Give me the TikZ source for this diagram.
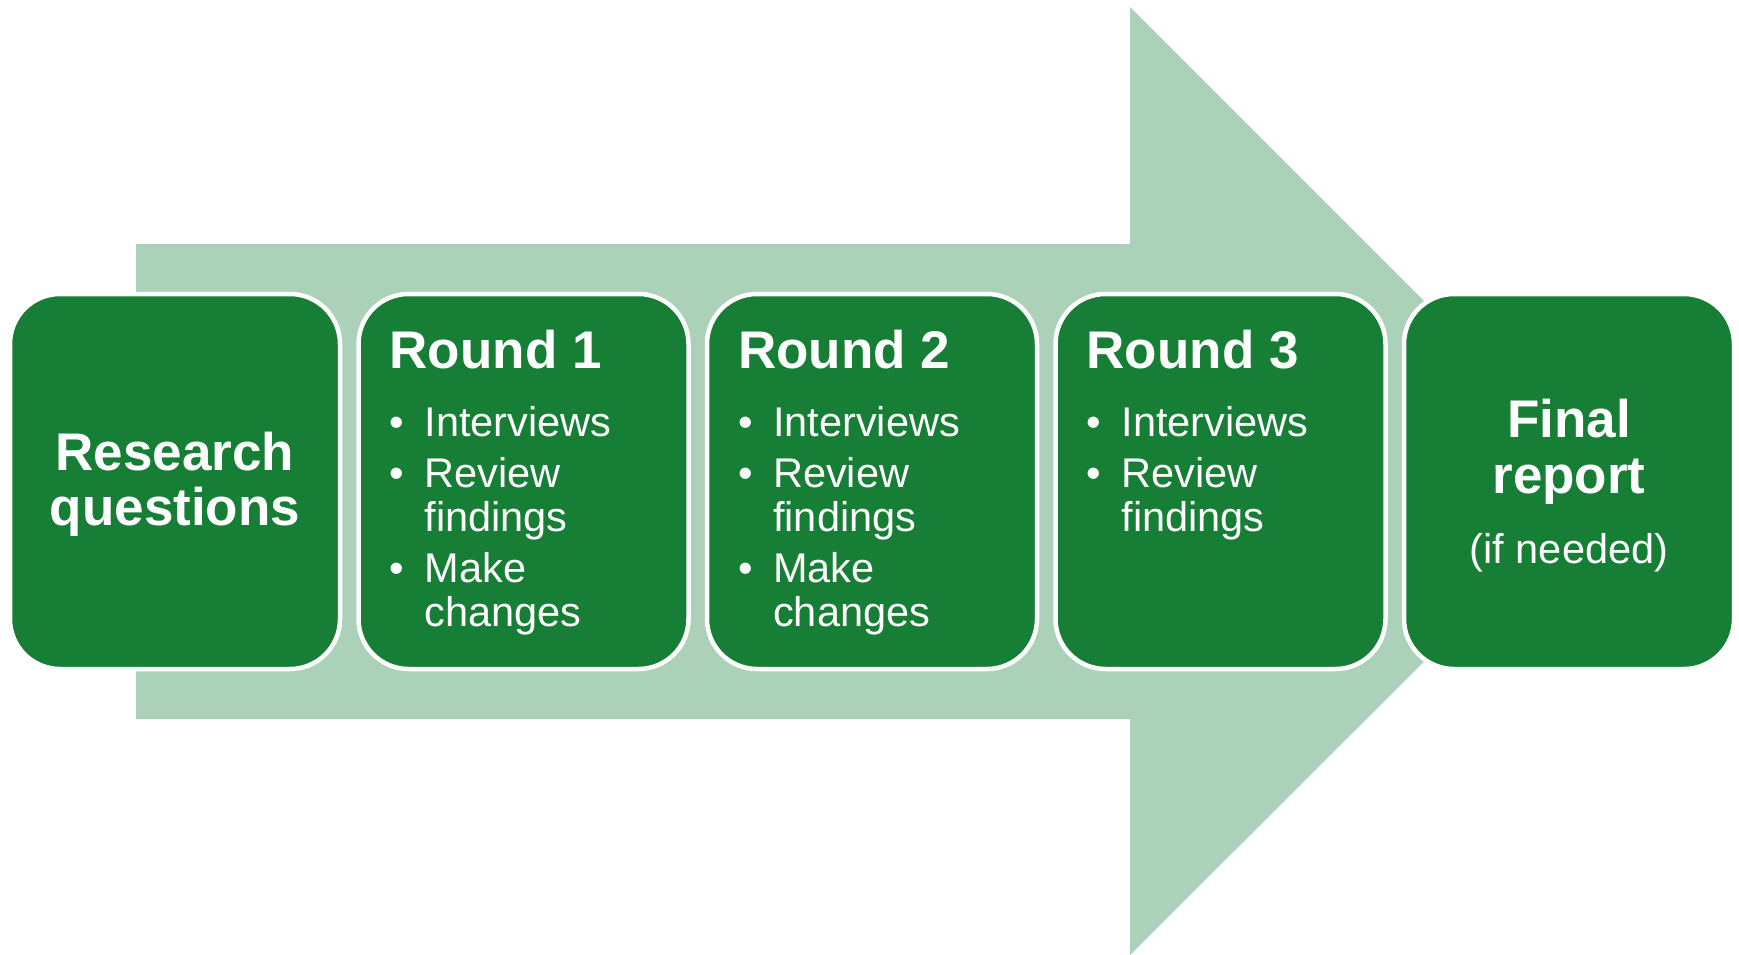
\documentclass[tikz,border=0pt]{standalone}
\usepackage{fontspec}
\setmainfont{Liberation Sans}
\usepackage{xcolor}
\usetikzlibrary{calc}
\definecolor{roundgreen}{HTML}{177E36}
\definecolor{arrowgreen}{HTML}{ABD1B8}
\colorlet{boxtext}{white}
\newcommand{\roundhead}[1]{% heading of a round
{\fontsize{53}{60}\selectfont\bfseries #1\par}\vspace{17pt}}
\newcommand{\bul}[1]{% bullet line
\par\vspace{7pt}\hangindent=35pt\hangafter=1\noindent\makebox[35pt][l]{\textbullet}#1}
\tikzstyle{stepbox} = [
    rectangle,
    rounded corners=50pt,
    draw=white,
    fill=roundgreen,
    line width=4.5pt,
    minimum width=330pt,
    minimum height=375pt,
    inner sep=0pt,
    outer sep=0pt
    ]
\tikzstyle{steptext} = [
    text=boxtext,
    inner sep=0pt,
    anchor=base west
    ]
\tikzstyle{centertext} = [
    text=boxtext,
    inner sep=0pt,
    anchor=base
    ]

\begin{document}
\begin{tikzpicture}[x=1pt,y=-1pt]
\useasboundingbox (0,0) rectangle (1739,955);
% big arrow behind the boxes
\fill[arrowgreen] (136,244) -- (1130,244) -- (1130,7) -- (1604.5,481.5)
    -- (1130,955) -- (1130,719) -- (136,719) -- cycle;

\node[stepbox] (questions) at (175,481.5) {};
\node[stepbox] (round1) at (523.5,481.5) {};
\node[stepbox] (round2) at (872,481.5) {};
\node[stepbox] (round3) at (1220.5,481.5) {};
\node[stepbox] (final) at (1569,481.5) {};

\node[centertext] (questionstext) at (175,470) {%
    \begin{minipage}[t]{320pt}\centering
    \fontsize{53}{55}\selectfont\bfseries
    Research\\questions
    \end{minipage}
};
\node[steptext] (round1text) at ([shift={(31,74)}]round1.north west) {%
    \begin{minipage}[t]{290pt}\raggedright
    \fontsize{41.5}{44}\selectfont
    \roundhead{Round 1}
    \bul{Interviews}
    \bul{Review\newline findings}
    \bul{Make\newline changes}
    \end{minipage}
};
\node[steptext] (round2text) at ([shift={(31,74)}]round2.north west) {%
    \begin{minipage}[t]{290pt}\raggedright
    \fontsize{41.5}{44}\selectfont
    \roundhead{Round 2}
    \bul{Interviews}
    \bul{Review\newline findings}
    \bul{Make\newline changes}
    \end{minipage}
};
\node[steptext] (round3text) at ([shift={(31,74)}]round3.north west) {%
    \begin{minipage}[t]{290pt}\raggedright
    \fontsize{41.5}{44}\selectfont
    \roundhead{Round 3}
    \bul{Interviews}
    \bul{Review\newline findings}
    \end{minipage}
};
\node[centertext] (finaltext) at (1569,437) {%
    \begin{minipage}[t]{320pt}\centering
    \fontsize{53}{56}\selectfont\bfseries
    Final\\report\par
    {\fontsize{41.5}{70}\selectfont\mdseries (if needed)\par}
    \end{minipage}
};
\end{tikzpicture}
\end{document}
